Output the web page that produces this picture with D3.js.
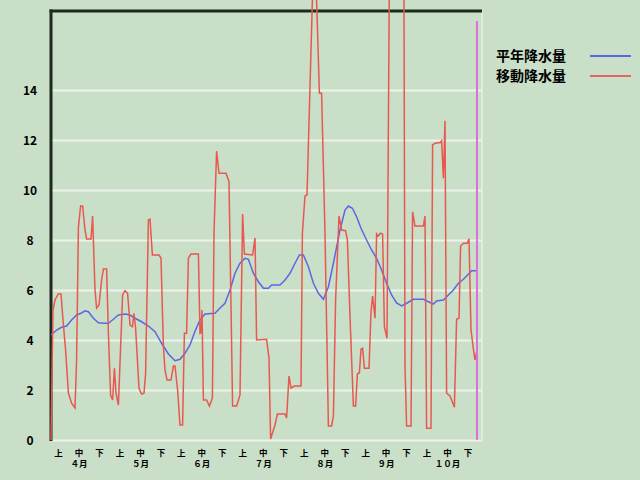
<!DOCTYPE html>
<html><head><meta charset="utf-8">
<script src="https://cdn.jsdelivr.net/npm/d3@7"></script>
<style>body{margin:0;background:#c9dfc7;}svg{display:block;}</style>
</head><body>
<svg id="chart" width="640" height="480"></svg>
<script>
// ---- data ----
const seriesNames = ["平年降水量", "移動降水量"];
const yTicks = [0, 2, 4, 6, 8, 10, 12, 14];
const months = ["４月", "５月", "６月", "７月", "８月", "９月", "１０月"];
const dekads = ["上", "中", "下"];
// day index from 1 Apr (0) to 31 Oct (213)
const normalDays = [0,2.8,5.3,7.8,10.3,12.8,15.3,17,18.7,21.2,23.7,26.2,28.7,31.2,33.7,37,39.5,42,45.3,48.7,52,55.3,58.7,62,64.5,67,69.5,72,74.5,77,82,84.5,87,89.5,92,94.5,97,98.7,101.2,103.7,106.2,108.7,110.3,114.5,117,119.5,122,124.2,126.2,128.7,131.2,133.7,136.2,138.7,141.2,144.5,147,148.7,150.7,152.8,155,157.8,160.3,162.8,165.3,167.8,170.3,172.8,175.3,177.8,181.2,186.2,188.7,191.2,192.8,196.2,198.7,201.2,203.7,206.2,208.3,210.3,213];
const normalVals = [4.2,4.4,4.51,4.56,4.8,5.0,5.08,5.17,5.13,4.87,4.69,4.67,4.67,4.83,5.0,5.04,5.0,4.87,4.73,4.56,4.33,3.87,3.44,3.17,3.23,3.47,3.8,4.35,4.8,5.04,5.07,5.28,5.47,6.0,6.67,7.07,7.27,7.23,6.67,6.33,6.07,6.07,6.2,6.2,6.4,6.67,7.07,7.4,7.4,6.93,6.27,5.87,5.63,6.13,7.07,8.4,9.2,9.36,9.27,8.93,8.47,8.0,7.6,7.27,6.8,6.27,5.8,5.48,5.36,5.47,5.63,5.63,5.53,5.44,5.56,5.6,5.8,6.0,6.27,6.43,6.6,6.77,6.77];
const movingDays = [0,1,2,3.6,5,6,7.3,8.7,10.3,12,12.8,13.7,14.8,15.8,17,17.8,20,20.8,22,22.8,24,25.3,26.2,27.8,28.7,29.8,30.8,31.7,32.5,33.7,35.8,37,38.3,39.5,40.7,41.5,42.3,44,45.3,46.5,47.3,48.7,49.5,50.7,54,55,56.2,57,58,60,61.2,62,63.3,64.5,65.8,66.7,67.8,68.7,70,73.7,74.5,75,75.5,76.2,77.8,79.2,80.7,81.5,82.8,84,87.5,89,90.8,92.8,94.5,95.8,96.7,100.8,102,102.8,107.8,109,109.8,112,113.2,117,117.8,119,120,121.7,125,125.7,127,128,131.7,134.2,135.3,137,138.7,140.3,141.2,142.3,144,145.3,147.3,148.2,149.5,151.2,152.3,153.2,154.2,155,155.8,156.7,159,160,160.8,162,162.8,163.5,164.7,165.8,166.7,168,169.8,176.2,177,177.8,180,180.8,182,186.2,187,187.8,190,190.8,192,194.7,195.3,196.2,197,197.8,199.5,200.7,201.7,202.8,204,204.8,206.2,208.2,209,210,211.2,212,212.8];
const movingVals = [0,5.2,5.6,5.84,5.84,4.8,3.6,1.88,1.47,1.28,3.2,8.5,9.36,9.36,8.4,8.04,8.04,8.96,6.0,5.28,5.4,6.4,6.84,6.84,4.27,1.8,1.6,2.87,1.87,1.4,5.8,5.97,5.87,4.6,4.53,5.07,4.47,2.07,1.84,1.87,2.67,8.8,8.83,7.4,7.4,7.28,3.73,2.8,2.4,2.4,2.96,2.96,2.0,0.6,0.6,4.27,4.27,7.28,7.44,7.44,4.27,4.3,5.2,1.6,1.6,1.36,1.68,8.27,11.56,10.67,10.67,10.33,1.36,1.36,1.8,9.04,7.44,7.4,8.08,4.0,4.03,3.28,0.04,0.6,1.04,1.04,0.88,2.56,2.08,2.16,2.16,8.27,9.76,9.8,20.5,13.87,13.87,8.27,0.56,0.56,0.96,5.6,8.96,8.4,8.37,8.0,4.93,1.36,1.36,2.64,2.69,3.63,3.67,2.87,2.87,5.13,5.76,4.87,8.24,8.15,8.27,8.24,4.53,4.07,26,26,2.93,0.56,0.56,9.13,8.56,8.56,8.96,0.47,0.47,11.8,11.87,11.9,11.97,10.47,12.77,1.87,1.76,1.52,1.31,4.83,4.87,7.76,7.87,7.87,8.05,4.4,3.63,3.2,3.52];
const todayIndex = 213;

// ---- drawing ----
const svg = d3.select("#chart");
const W = 640, H = 480;
const pLeft = 51, pRight = 482, pTop = 11, pBottom = 440;
const x = d3.scaleLinear().domain([0, 215.5]).range([pLeft, pRight]);
const y = d3.scaleLinear().domain([0, (pBottom - pTop) / 25]).range([pBottom, pTop]);
const font = "'Noto Sans CJK JP', 'Noto Sans', sans-serif";

svg.append("rect").attr("width", W).attr("height", H).attr("fill", "#c9dfc7");

// gridlines + y labels
const yAxis = d3.axisLeft(y).tickValues(yTicks).tickSize(-(pRight - pLeft)).tickPadding(0);
const gy = svg.append("g").attr("transform", `translate(${pLeft},0)`).call(yAxis);
gy.select(".domain").remove();
gy.selectAll(".tick line").attr("stroke", "#edf3ea").attr("stroke-width", 2);
gy.selectAll(".tick text").attr("x", -21).attr("text-anchor", "middle").attr("dy", "0.36em")
  .attr("font-family", font).attr("font-weight", "bold").attr("font-size", 12).attr("fill", "#000");

// right light border
svg.append("line").attr("x1", pRight).attr("x2", pRight).attr("y1", pTop).attr("y2", pBottom + 1)
  .attr("stroke", "#e6efe3").attr("stroke-width", 1.5);

// dark left and top axis lines
svg.append("line").attr("x1", pLeft).attr("x2", pLeft).attr("y1", pTop - 1.5).attr("y2", pBottom + 1)
  .attr("stroke", "#1d2a1d").attr("stroke-width", 3);
svg.append("line").attr("x1", pLeft - 1.5).attr("x2", pRight).attr("y1", pTop).attr("y2", pTop)
  .attr("stroke", "#1d2a1d").attr("stroke-width", 3);

// series
const line = d3.line().x(d => x(d[0])).y(d => y(d[1]));
svg.append("path").datum(normalDays.map((d, i) => [d, normalVals[i]]))
  .attr("d", line).attr("fill", "none").attr("stroke", "#5c66e4").attr("stroke-width", 1.5);
svg.append("path").datum(movingDays.map((d, i) => [d, movingVals[i]]))
  .attr("d", line).attr("fill", "none").attr("stroke", "#e85850").attr("stroke-width", 1.5);

// today marker
svg.append("line").attr("x1", x(todayIndex)).attr("x2", x(todayIndex)).attr("y1", 21).attr("y2", pBottom)
  .attr("stroke", "#de70de").attr("stroke-width", 2);

// x labels
const dk = d3.scalePoint().domain(d3.range(months.length * 3)).range([58, 467.5]);
const gx = svg.append("g").attr("transform", `translate(0,${pBottom})`)
  .call(d3.axisBottom(dk).tickSize(0).tickPadding(0).tickFormat(i => dekads[i % 3]));
gx.select(".domain").remove();
gx.selectAll(".tick text").attr("y", 12.5).attr("dy", "0.36em")
  .attr("font-family", font).attr("font-weight", "bold").attr("font-size", 8.5).attr("fill", "#000");
const gm = svg.append("g").attr("transform", `translate(0,${pBottom})`)
  .call(d3.axisBottom(dk).tickValues(d3.range(months.length).map(m => m * 3 + 1)).tickSize(0).tickPadding(0)
    .tickFormat(i => months[(i - 1) / 3]));
gm.select(".domain").remove();
gm.selectAll(".tick text").attr("y", 24).attr("dy", "0.36em")
  .attr("font-family", font).attr("font-weight", "bold").attr("font-size", 8.5).attr("fill", "#000");

// legend
const legColors = ["#5c66e4", "#e06660"];
seriesNames.forEach((n, i) => {
  const ly = 56 + i * 20;
  svg.append("text").attr("x", 496).attr("y", ly).attr("dy", "0.36em").text(n)
    .attr("font-family", font).attr("font-weight", "bold").attr("font-size", 14).attr("fill", "#000");
  svg.append("line").attr("x1", 590).attr("x2", 631).attr("y1", ly).attr("y2", ly)
    .attr("stroke", legColors[i]).attr("stroke-width", 2);
});
</script>
</body></html>
